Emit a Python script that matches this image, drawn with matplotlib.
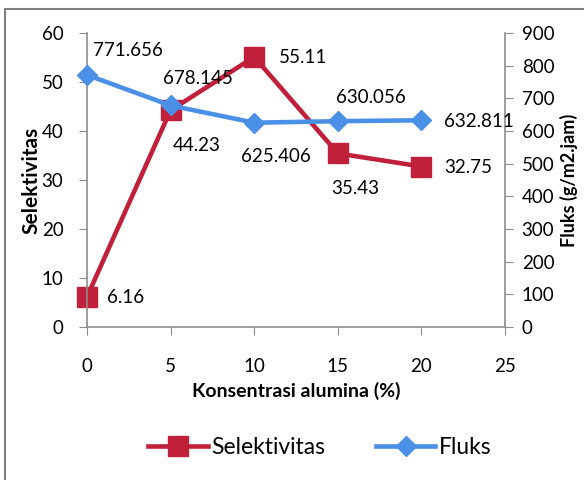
import matplotlib.pyplot as plt
from matplotlib.patches import Rectangle

plt.rcParams['font.family'] = ['Lato', 'DejaVu Sans']

# data
konsentrasi = [0, 5, 10, 15, 20]
selektivitas = [6.16, 44.23, 55.11, 35.43, 32.75]
fluks = [771.656, 678.145, 625.406, 630.056, 632.811]

red = '#C0203A'
blue = '#4A90E6'
gray = '#8C8C8C'

fig = plt.figure(figsize=(5.84, 4.8), dpi=100)
# outer chart border
fig.patches.append(Rectangle((5 / 584, -0.05), 1.2, 1.05 - 9 / 480,
                             transform=fig.transFigure, fill=False,
                             edgecolor='#808080', linewidth=1.5))

ax = fig.add_axes([87 / 584, 1 - 327 / 480, 418 / 584, 294 / 480])
ax2 = ax.twinx()

ax.plot(konsentrasi, selektivitas, color=red, lw=3.3, marker='s', ms=14,
        label='Selektivitas', clip_on=False)
ax2.plot(konsentrasi, fluks, color=blue, lw=3.3, marker='D', ms=10,
         label='Fluks', clip_on=False)

ax.set_xlim(0, 25)
ax.set_ylim(0, 60)
ax2.set_ylim(0, 900)
ax.set_xticks(range(0, 30, 5))
ax.set_yticks(range(0, 70, 10))
ax2.set_yticks(range(0, 1000, 100))

for a in (ax, ax2):
    for s in a.spines.values():
        s.set_visible(False)
ax.spines['left'].set_visible(True)
ax.spines['bottom'].set_visible(True)
ax2.spines['right'].set_visible(True)
for s in (ax.spines['left'], ax.spines['bottom'], ax2.spines['right']):
    s.set_color(gray)
    s.set_linewidth(1.2)

ax.tick_params(axis='x', direction='out', length=6, color=gray, pad=16,
               labelsize=13.5)
ax.tick_params(axis='y', direction='out', length=6, color=gray, pad=11,
               labelsize=13.5)
ax2.tick_params(axis='y', direction='out', length=6, color=gray, pad=6,
                labelsize=13.5)

ax.set_xlabel('Konsentrasi alumina (%)', fontsize=14, fontweight='bold',
              labelpad=5)
ax.set_ylabel('Selektivitas', fontsize=15, fontweight='bold', labelpad=0)
ax2.set_ylabel('Fluks (g/m2.jam)', fontsize=13, fontweight='bold',
               labelpad=4)

# value labels, offsets in pixels
sel_off = [(20, -1), (2, -35), (25, -1), (-7, -35), (23, -1)]
flu_off = [(6, 24), (-8, 27), (-13, -34), (-2, 24), (23, -1)]
for x, y, o in zip(konsentrasi, selektivitas, sel_off):
    ax.annotate(f'{y:g}', (x, y), xytext=o, textcoords='offset pixels',
                ha='left', va='center', fontsize=13.5, annotation_clip=False,
                zorder=5)
for x, y, o in zip(konsentrasi, fluks, flu_off):
    ax2.annotate(f'{y:g}', (x, y), xytext=o, textcoords='offset pixels',
                 ha='left', va='center', fontsize=13.5, annotation_clip=False,
                 zorder=5)

h1, l1 = ax.get_legend_handles_labels()
h2, l2 = ax2.get_legend_handles_labels()
fig.legend(h1 + h2, l1 + l2, loc='center', bbox_to_anchor=(320 / 584, 1 - 448 / 480),
           ncol=2, frameon=False, fontsize=16.5, handlelength=2.6,
           columnspacing=2.2, handletextpad=0.15)

plt.savefig('out.png', dpi=100)
